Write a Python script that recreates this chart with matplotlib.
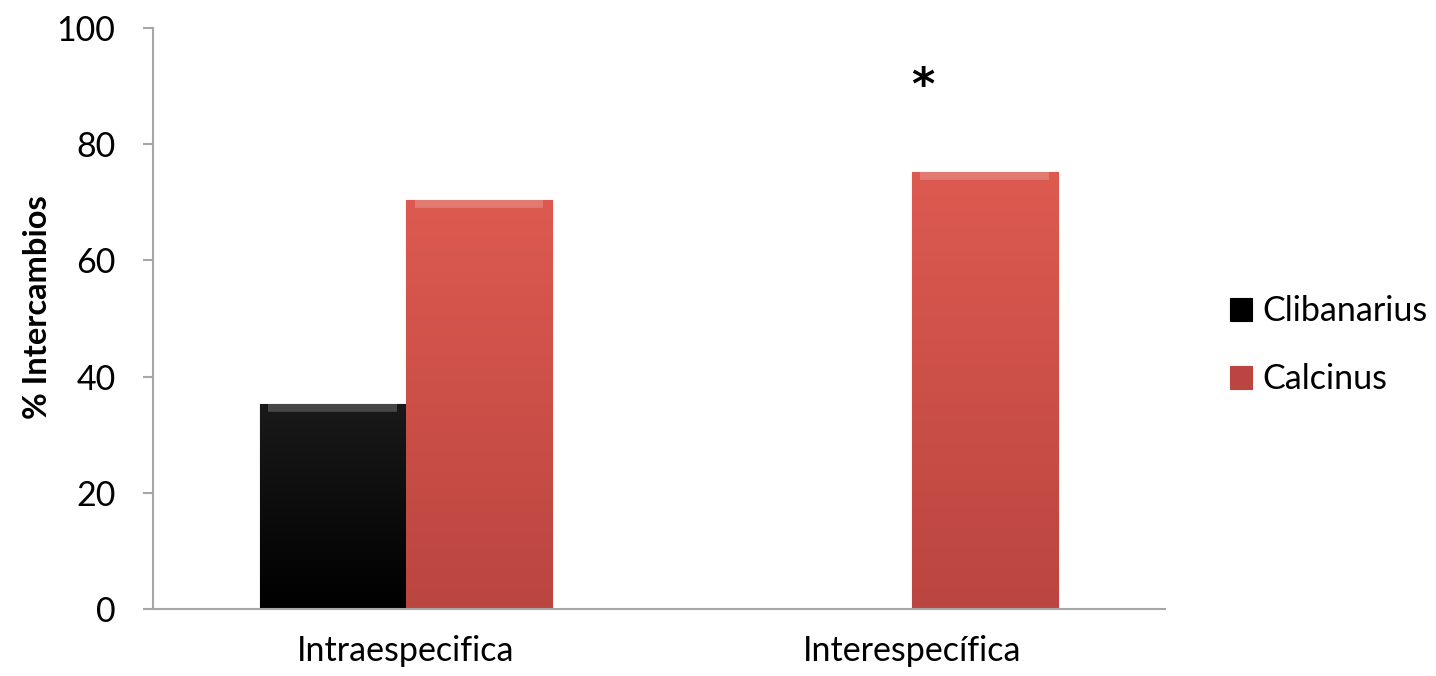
import numpy as np
import matplotlib.pyplot as plt
from matplotlib.colors import LinearSegmentedColormap

plt.rcParams['font.family'] = ['Lato', 'DejaVu Sans']

categories = ['Intraespecifica', 'Interespecífica']
species = ['Clibanarius', 'Calcinus']
clibanarius = [35.3, 0]
calcinus = [70.4, 75.2]
significance = ['', '*']

colors = {'Clibanarius': ('#1a1a1a', '#000000'),
          'Calcinus': ('#dd5a50', '#bb4540')}

fig = plt.figure(figsize=(14.36, 6.76), dpi=100)
ax = fig.add_axes([0.1065, 0.099, 0.7045, 0.8596])

x = np.arange(len(categories))
width = 0.289
offsets = [-width / 2, width / 2]


def shade_bar(ax, bar, top, bottom):
    # vertical gradient clipped to the bar
    if bar.get_height() <= 0:
        return
    cmap = LinearSegmentedColormap.from_list('g', [bottom, top])
    grad = np.linspace(0, 1, 256).reshape(-1, 1)
    x0, y0 = bar.get_x(), bar.get_y()
    im = ax.imshow(grad, cmap=cmap, origin='lower', aspect='auto',
                   extent=[x0, x0 + bar.get_width(), y0, y0 + bar.get_height()],
                   zorder=bar.get_zorder() + 0.1)
    im.set_clip_path(bar)
    # light band along the top edge
    ax.plot([x0 + bar.get_width() * 0.06, x0 + bar.get_width() * 0.94],
            [y0 + bar.get_height() - 0.5, y0 + bar.get_height() - 0.5],
            color='white', alpha=0.2, lw=7, solid_capstyle='butt',
            zorder=bar.get_zorder() + 0.2)


for name, vals, off in zip(species, [clibanarius, calcinus], offsets):
    top, bottom = colors[name]
    bars = ax.bar(x + off, vals, width, color=bottom, edgecolor=bottom,
                  linewidth=0.8, label=name, zorder=2)
    for b in bars:
        shade_bar(ax, b, top, bottom)

for xi, val, mark in zip(x, calcinus, significance):
    if mark:
        ax.text(xi + 0.022, val + 14.8, mark, ha='center', va='center',
                fontsize=32, fontweight='bold', family='DejaVu Sans')

ax.set_xlim(-0.5, 1.5)
ax.set_ylim(0, 100)
ax.set_yticks(np.arange(0, 101, 20))
ax.set_xticks(x)
ax.set_xticklabels(categories, fontsize=24.5)
ax.tick_params(axis='x', length=0, pad=19)
ax.tick_params(axis='y', labelsize=24.5, length=7, width=1.5, color='#a6a6a6', pad=20)
ax.set_ylabel('% Intercambios', fontsize=23.5, fontweight='bold')
ax.yaxis.set_label_coords(-0.1, 0.52)

for side in ['top', 'right']:
    ax.spines[side].set_visible(False)
for side in ['left', 'bottom']:
    ax.spines[side].set_color('#a6a6a6')
    ax.spines[side].set_linewidth(1.5)

leg = ax.legend(loc='center left', bbox_to_anchor=(1.034, 0.454), frameon=False,
                fontsize=24.5, handlelength=0.65, handleheight=0.65,
                handletextpad=0.3, labelspacing=1.05)

fig.savefig('out.png', dpi=100)
